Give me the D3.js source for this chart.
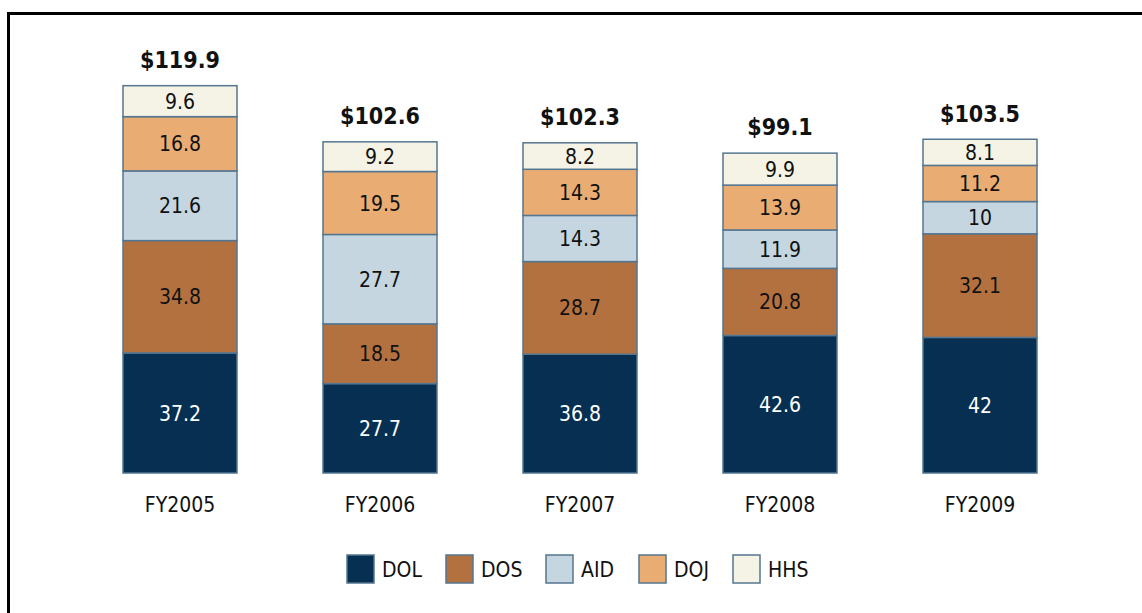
<!DOCTYPE html>
<html>
<head>
<meta charset="utf-8">
<script src="https://cdn.jsdelivr.net/npm/d3@7"></script>
<style>
  body { margin: 0; background: #fff; }
  svg, svg text { font-family: "DejaVu Sans Condensed", "DejaVu Sans", sans-serif; font-stretch: condensed; }
</style>
</head>
<body>
<div id="chart"></div>
<script>
// chart data
const years = ['FY2005', 'FY2006', 'FY2007', 'FY2008', 'FY2009'];
const agencies = ['DOL', 'DOS', 'AID', 'DOJ', 'HHS'];
const DOL = [37.2, 27.7, 36.8, 42.6, 42];
const DOS = [34.8, 18.5, 28.7, 20.8, 32.1];
const AID = [21.6, 27.7, 14.3, 11.9, 10];
const DOJ = [16.8, 19.5, 14.3, 13.9, 11.2];
const HHS = [9.6, 9.2, 8.2, 9.9, 8.1];
const totals = ['$119.9', '$102.6', '$102.3', '$99.1', '$103.5'];
const colors = ['#062f52', '#b47140', '#c5d6e0', '#e9ad74', '#f5f3e6'];

const width = 1142, height = 613;
const series = [DOL, DOS, AID, DOJ, HHS];

const rows = years.map((y, i) => {
    const r = { year: y, total: totals[i] };
    agencies.forEach((a, k) => { r[a] = series[k][i]; });
    return r;
});

const svg = d3.select('#chart')
    .append('svg')
    .attr('width', width)
    .attr('height', height);

// frame (top and left edges only show in the crop)
svg.append('path')
    .attr('d', `M8.5,${height} V13.5 H${width}`)
    .attr('fill', 'none')
    .attr('stroke', '#000')
    .attr('stroke-width', 3);

const x = d3.scaleBand()
    .domain(years)
    .range([80, 1080])
    .paddingInner(0.43)
    .paddingOuter(0.215);

const y = d3.scaleLinear()
    .domain([0, 119.9])
    .range([473, 86]);

const stack = d3.stack().keys(agencies)(rows);

const layers = svg.selectAll('.layer')
    .data(stack)
    .enter()
    .append('g')
    .attr('class', 'layer')
    .attr('fill', (d, i) => colors[i]);

layers.selectAll('rect')
    .data(d => d)
    .enter()
    .append('rect')
    .attr('x', d => x(d.data.year))
    .attr('y', d => y(d[1]))
    .attr('width', x.bandwidth())
    .attr('height', d => y(d[0]) - y(d[1]))
    .attr('stroke', '#557690')
    .attr('stroke-width', 1.5);

// value labels inside each segment
layers.selectAll('text')
    .data((d, i) => d.map(s => ({ s: s, k: i })))
    .enter()
    .append('text')
    .attr('x', d => x(d.s.data.year) + x.bandwidth() / 2)
    .attr('y', d => (y(d.s[0]) + y(d.s[1])) / 2)
    .attr('dy', '0.36em')
    .attr('text-anchor', 'middle')
    .attr('font-size', 21)
    .attr('fill', d => d.k === 0 ? '#ffffff' : '#111')
    .text(d => series[d.k][years.indexOf(d.s.data.year)]);

// totals above bars
svg.selectAll('.total')
    .data(rows)
    .enter()
    .append('text')
    .attr('class', 'total')
    .attr('x', d => x(d.year) + x.bandwidth() / 2)
    .attr('y', d => y(d3.sum(agencies, a => d[a])) - 26)
    .attr('dy', '0.36em')
    .attr('text-anchor', 'middle')
    .attr('font-size', 23)
    .attr('font-weight', 'bold')
    .attr('fill', '#111')
    .text(d => d.total);

// category axis labels
const xAxis = d3.axisBottom(x).tickSize(0).tickPadding(24);
svg.append('g')
    .attr('transform', 'translate(0,473)')
    .call(xAxis)
    .attr('font-family', null)
    .call(g => g.select('.domain').remove())
    .selectAll('text')
    .attr('font-size', 21)
    .attr('fill', '#111');

// legend
const legendX = [347, 446, 546, 639, 733];
const legend = svg.selectAll('.legend')
    .data(agencies)
    .enter()
    .append('g')
    .attr('class', 'legend')
    .attr('transform', (d, i) => `translate(${legendX[i]},555)`);

legend.append('rect')
    .attr('width', 27)
    .attr('height', 28)
    .attr('fill', (d, i) => colors[i])
    .attr('stroke', '#557690')
    .attr('stroke-width', 1.5);

legend.append('text')
    .attr('x', 35)
    .attr('y', 14)
    .attr('dy', '0.36em')
    .attr('font-size', 21)
    .attr('fill', '#111')
    .text(d => d);
</script>
</body>
</html>
